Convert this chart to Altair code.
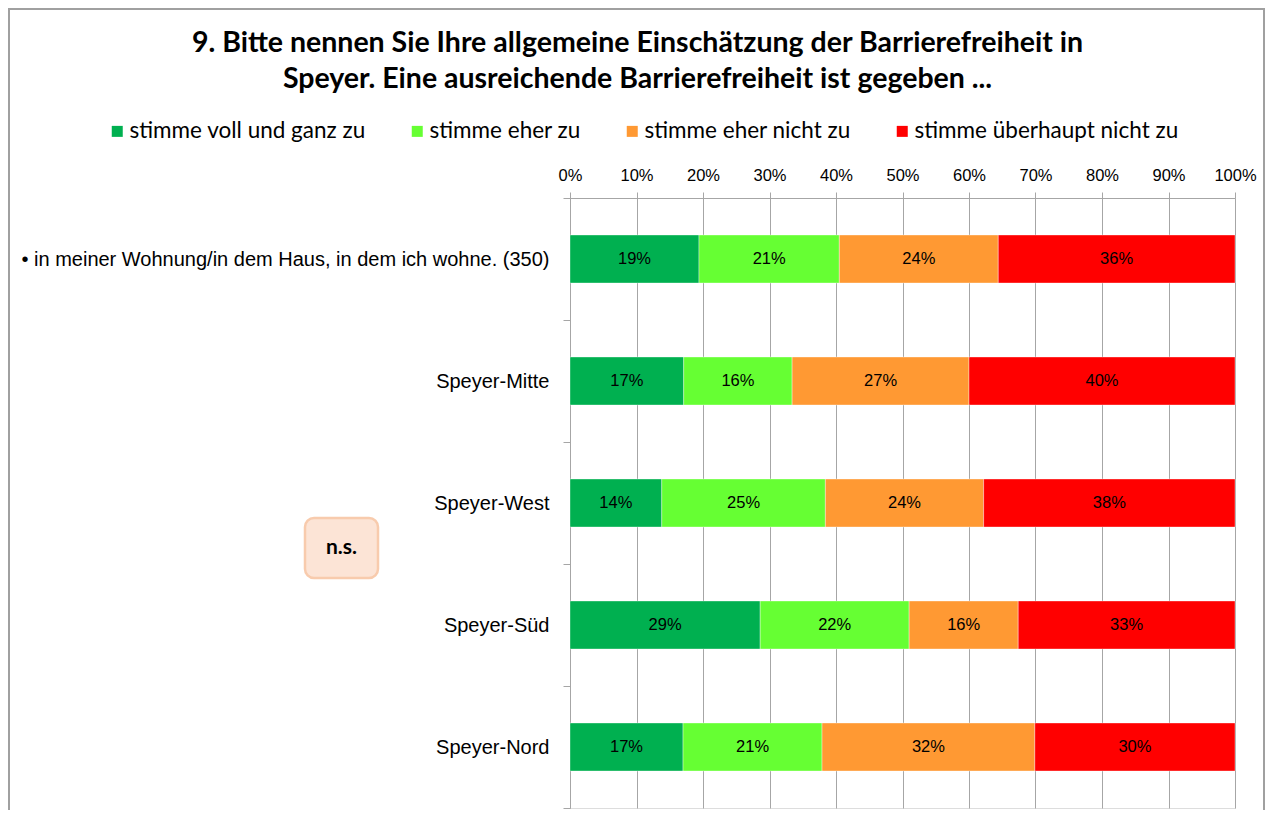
import altair as alt
import pandas as pd

categories = [
    "• in meiner Wohnung/in dem Haus, in dem ich wohne. (350)",
    "Speyer-Mitte",
    "Speyer-West",
    "Speyer-Süd",
    "Speyer-Nord",
]
series = ["stimme voll und ganz zu", "stimme eher zu", "stimme eher nicht zu", "stimme überhaupt nicht zu"]
colors = ["#00B050", "#66FF33", "#FF9933", "#FF0000"]

voll = [19.4, 17.1, 13.8, 28.6, 17.0]
eher = [21.1, 16.3, 24.6, 22.4, 20.9]
eher_nicht = [23.9, 26.6, 23.8, 16.4, 32.0]
ueberhaupt = [35.6, 40.0, 37.8, 32.6, 30.1]

title_lines = [
    "9. Bitte nennen Sie Ihre allgemeine Einschätzung der Barrierefreiheit in",
    "Speyer. Eine ausreichende Barrierefreiheit ist gegeben ...",
]
note_text = ["n.s."]

rows = []
for s_i, (s, vals) in enumerate(zip(series, [voll, eher, eher_nicht, ueberhaupt])):
    for c, v in zip(categories, vals):
        rows.append({"cat": c, "series": s, "order": s_i, "value": v})
df = pd.DataFrame(rows)

x_scale = alt.Scale(domain=[0, 100], nice=False)
y_scale = alt.Scale(domain=categories, paddingInner=0, paddingOuter=0)

base = alt.Chart(df).transform_stack(
    stack="value", groupby=["cat"], as_=["x0", "x1"], sort=[alt.SortField("order", order="ascending")]
).transform_calculate(mid="(datum.x0 + datum.x1) / 2", label="round(datum.value) + '%'")

bars = base.mark_bar(size=48, stroke="#ffffff", strokeWidth=0.6, strokeOpacity=0.6).encode(
    x=alt.X(
        "x0:Q",
        scale=x_scale,
        axis=alt.Axis(
            orient="top",
            values=list(range(0, 101, 10)),
            labelExpr="datum.value + '%'",
            labelFlush=False,
            title=None,
            grid=True,
            gridColor="#A6A6A6",
            gridWidth=1,
            domainColor="#A6A6A6",
            tickColor="#A6A6A6",
            tickSize=6,
            labelFont="Liberation Sans",
            labelFontSize=16.5,
            labelColor="#000000",
            labelPadding=9,
        ),
    ),
    x2="x1:Q",
    y=alt.Y(
        "cat:N",
        scale=y_scale,
        sort=categories,
        axis=alt.Axis(
            title=None,
            tickBand="extent",
            domainColor="#A6A6A6",
            tickColor="#A6A6A6",
            tickSize=7,
            labelFont="Liberation Sans",
            labelFontSize=20,
            labelColor="#000000",
            labelPadding=14,
            labelLimit=700,
            grid=False,
        ),
    ),
    color=alt.Color(
        "series:N",
        scale=alt.Scale(domain=series, range=colors),
        legend=alt.Legend(
            orient="none",
            legendX=-464,
            legendY=-78,
            direction="horizontal",
            columns=4,
            title=None,
            symbolType="square",
            symbolSize=121,
            symbolStrokeWidth=0,
            labelFont="Lato",
            labelFontSize=22.5,
            labelColor="#000000",
            labelOffset=1,
            columnPadding=40,
            labelLimit=400,
        ),
    ),
    order=alt.Order("order:Q"),
)

texts = base.mark_text(font="Liberation Sans", fontSize=16.5, color="#000000", baseline="middle").encode(
    x=alt.X("mid:Q", scale=x_scale),
    y=alt.Y("cat:N", scale=y_scale, sort=categories),
    text="label:N",
)

note_df = pd.DataFrame({"t": note_text})
note_box = alt.Chart(note_df).mark_rect(
    fill="#FCE4D6", stroke="#F8CBAD", strokeWidth=2.5, cornerRadius=9
).encode(x=alt.value(-265), x2=alt.value(-192), y=alt.value(320), y2=alt.value(380))
note_label = alt.Chart(note_df).mark_text(
    font="Lato", fontWeight="bold", fontSize=21, color="#000000", baseline="middle", align="center"
).encode(x=alt.value(-228.5), y=alt.value(350), text="t:N")

frame = alt.Chart(note_df).mark_rect(fill=None, stroke="#A0A0A0", strokeWidth=2).encode(
    x=alt.value(-561), x2=alt.value(694), y=alt.value(-189), y2=alt.value(700)
)

chart = (
    alt.layer(bars, texts, note_box, note_label, frame)
    .properties(
        width=665,
        height=610,
        padding={"left": 562, "top": 190, "right": 31, "bottom": 2},
        autosize=alt.AutoSizeParams(type="none"),
        title=alt.Title(
            text=title_lines,
            font="Lato",
            fontSize=28.5,
            fontWeight="bold",
            color="#000000",
            anchor="middle",
            frame="group",
            dx=-265,
            offset=-85,
            lineHeight=36,
        ),
    )
    .configure_view(stroke=None)
    .configure(background="#ffffff")
)

chart.save("out.html", embed_options={"renderer": "svg", "actions": False})
